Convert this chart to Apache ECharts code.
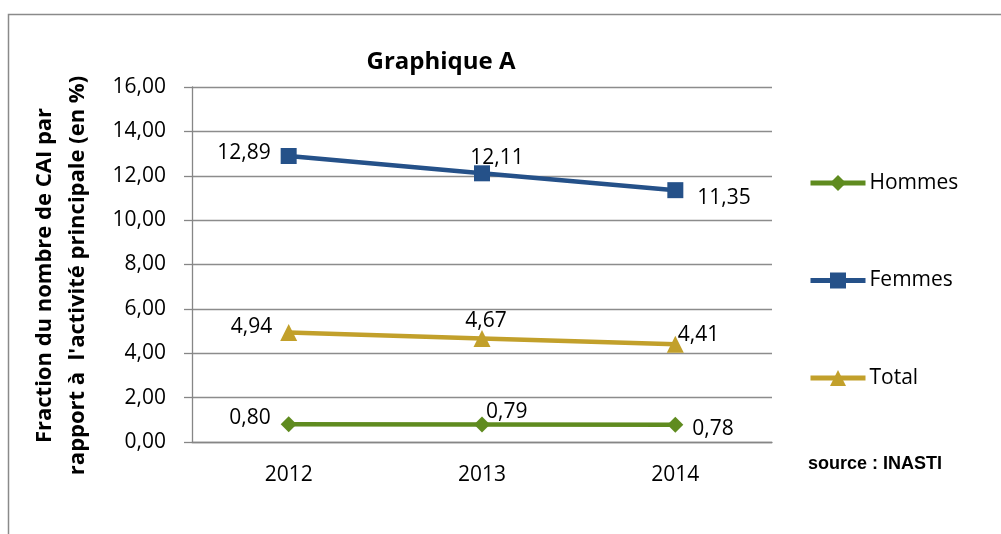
<!DOCTYPE html>
<html>
<head>
<meta charset="utf-8">
<script src="https://cdn.jsdelivr.net/npm/echarts@6/dist/echarts.min.js"></script>
<style>html,body{margin:0;padding:0;background:#fff}#c{width:1001px;height:534px}</style>
</head>
<body>
<div id="c"></div>
<script>
var categories = ['2012', '2013', '2014'];
var hommes = [0.80, 0.79, 0.78];
var femmes = [12.89, 12.11, 11.35];
var total = [4.94, 4.67, 4.41];
var seriesNames = ['Hommes', 'Femmes', 'Total'];

var FONT = '"Open Sans", Lato, sans-serif';
var FS = 21;
function fmt(v) { return v.toFixed(2).replace('.', ','); }

// label placement styles (per point)
var labHommes = [
  {position: 'left', distance: 10, offset: [0, -6]},
  {position: 'right', distance: -4, offset: [0, -12]},
  {position: 'right', distance: 9, offset: [0, 4]}
];
var labFemmes = [
  {position: 'left', distance: 10, offset: [0, -3]},
  {position: 'top', distance: -3, offset: [15, 0]},
  {position: 'right', distance: 14, offset: [0, 8]}
];
var labTotal = [
  {position: 'left', distance: 8, offset: [0, -5]},
  {position: 'top', distance: -2, offset: [4, 0]},
  {position: 'right', distance: -6, offset: [0, -9]}
];

function build(vals, labs) {
  return vals.map(function (v, i) {
    return {value: v, label: Object.assign({show: true}, labs[i])};
  });
}
function labelStyle() {
  return {fontFamily: FONT, fontSize: FS, color: '#000', formatter: function (p) { return fmt(p.value); }};
}

var chart = echarts.init(document.getElementById('c'));
chart.setOption({
  animation: false,
  backgroundColor: '#fff',
  title: {
    text: 'Graphique A',
    left: 436, top: 45, textAlign: 'center',
    textStyle: {fontFamily: FONT, fontWeight: 'bold', fontSize: 24, color: '#000'}
  },
  graphic: [
    {type: 'rect', shape: {x: 8.5, y: 14.5, width: 1200, height: 700},
     style: {fill: 'none', stroke: '#8a8a8a', lineWidth: 1.5}, silent: true},
    {type: 'text', left: 808, top: 455, silent: true,
     style: {text: 'source : INASTI', font: 'bold 18px "Liberation Sans", Arial, sans-serif', fill: '#000'}}
  ],
  legend: {
    orient: 'vertical', left: 808, top: 172, padding: 0,
    itemWidth: 55, itemHeight: 20, itemGap: 75.5,
    lineStyle: {width: 5},
    textStyle: {fontFamily: FONT, fontSize: FS, color: '#000', padding: [0, 0, 0, -1], lineHeight: 22},
    data: seriesNames
  },
  grid: {left: 192, right: 229, top: 87, bottom: 92},
  xAxis: {
    type: 'category', data: categories, boundaryGap: true,
    axisLine: {lineStyle: {color: '#868686', width: 1.3}},
    axisTick: {show: false},
    axisLabel: {margin: 23, fontFamily: FONT, fontSize: FS, color: '#000'}
  },
  yAxis: {
    type: 'value', min: 0, max: 16, interval: 2,
    name: "Fraction du nombre de CAI par\nrapport à  l'activité principale (en %)",
    nameLocation: 'middle', nameGap: 98,
    nameTextStyle: {fontFamily: FONT, fontWeight: 'bold', fontSize: 22, color: '#000', lineHeight: 33, padding: [0, 22, 0, 0]},
    axisLine: {show: true, lineStyle: {color: '#868686', width: 1.3}},
    axisTick: {show: true, length: 8, lineStyle: {color: '#868686', width: 1.3}},
    axisLabel: {margin: 26, fontFamily: FONT, fontSize: FS, color: '#000', formatter: fmt},
    splitLine: {lineStyle: {color: '#8c8c8c', width: 1.3}}
  },
  series: [
    {
      name: 'Hommes', type: 'line', data: build(hommes, labHommes),
      symbol: 'diamond', symbolSize: 16,
      lineStyle: {width: 4.5, color: '#5f8b1f'}, itemStyle: {color: '#5f8b1f'},
      label: labelStyle()
    },
    {
      name: 'Femmes', type: 'line', data: build(femmes, labFemmes),
      symbol: 'rect', symbolSize: 16,
      lineStyle: {width: 4.5, color: '#255189'}, itemStyle: {color: '#255189'},
      label: labelStyle()
    },
    {
      name: 'Total', type: 'line', data: build(total, labTotal),
      symbol: 'triangle', symbolSize: 17,
      lineStyle: {width: 4.5, color: '#c2a02b'}, itemStyle: {color: '#c2a02b'},
      label: labelStyle()
    }
  ]
});
</script>
</body>
</html>
